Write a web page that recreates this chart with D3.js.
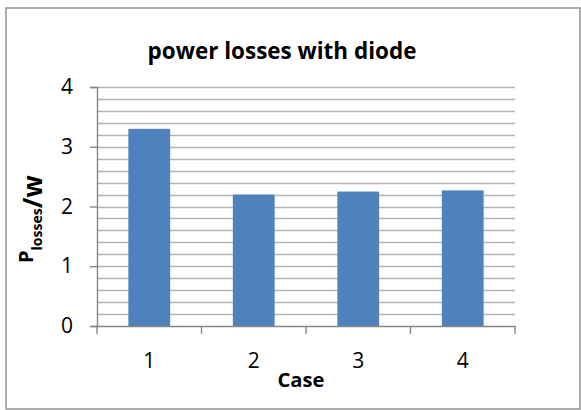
<!DOCTYPE html>
<html><head><meta charset="utf-8">
<script src="https://cdn.jsdelivr.net/npm/d3@7"></script>
<style>body{margin:0;background:#fff;} svg{display:block;}</style>
</head><body>
<svg id="c" width="581" height="410"></svg>
<script>
const categories = ["1","2","3","4"];
const values = [3.3, 2.2, 2.25, 2.27];
const yTicks = [0,1,2,3,4];
const title = "power losses with diode";
const xTitle = "Case";

const svg = d3.select("#c");
const font = "'Open Sans', 'Liberation Sans', sans-serif";
svg.append("rect").attr("x",6).attr("y",8).attr("width",574).attr("height",401)
  .attr("fill","#fff").attr("stroke","#9a9a9a").attr("stroke-width",1.6);

const m = {l:97, r:515, t:87, b:326};
const x = d3.scaleBand().domain(categories).range([m.l, m.r]).paddingInner(0.6).paddingOuter(0.3);
const xo = d3.scaleBand().domain(categories).range([m.l, m.r]);
const y = d3.scaleLinear().domain([0,4]).range([m.b, m.t]);

// minor gridlines
const grid = d3.range(1,21).map(i=>i*0.2);
svg.append("g").selectAll("line").data(grid).join("line")
  .attr("x1",m.l).attr("x2",m.r).attr("y1",d=>Math.round(y(d))+0.5).attr("y2",d=>Math.round(y(d))+0.5)
  .attr("stroke","#b3b3b3").attr("stroke-width",1.4);

// bars
svg.append("g").selectAll("rect").data(values).join("rect")
  .attr("x",(d,i)=>x(categories[i])).attr("width",x.bandwidth())
  .attr("y",d=>y(d)).attr("height",d=>y(0)-y(d))
  .attr("fill","#4f81bd");

// y axis
const ya = d3.axisLeft(y).tickValues(yTicks).tickSize(7).tickPadding(17).tickFormat(d3.format("d"));
const gy = svg.append("g").attr("transform",`translate(${m.l},0)`).call(ya);
gy.select(".domain").attr("stroke","#868686").attr("stroke-width",1.4);
gy.selectAll(".tick line").attr("stroke","#868686").attr("stroke-width",1.4);
gy.selectAll(".tick text").attr("font-family",font).attr("font-size",21).attr("fill","#000");

// x axis
const xa = d3.axisBottom(xo).tickSize(0).tickPadding(0);
const gx = svg.append("g").attr("transform",`translate(0,${m.b})`).call(xa);
gx.select(".domain").attr("stroke","#868686").attr("stroke-width",1.4);
gx.selectAll(".tick text").attr("font-family",font).attr("font-size",21).attr("fill","#000")
  .attr("y",42).attr("dy",0);
// category boundary ticks
const bounds = categories.map(c=>xo(c)).concat([m.r]);
svg.append("g").selectAll("line").data(bounds).join("line")
  .attr("x1",d=>d).attr("x2",d=>d).attr("y1",m.b).attr("y2",m.b+8)
  .attr("stroke","#868686").attr("stroke-width",1.4);

// titles
function fit(sel, target){
  const w = sel.node().getComputedTextLength();
  const fs = parseFloat(sel.attr("font-size"));
  if (w>0) sel.attr("font-size", fs*target/w);
}
const t = svg.append("text").attr("x",282).attr("y",59).attr("text-anchor","middle")
  .attr("font-family",font).attr("font-weight","bold").attr("font-size",19).text(title);
fit(t, 269);
const xt = svg.append("text").attr("x",301).attr("y",387).attr("text-anchor","middle")
  .attr("font-family",font).attr("font-weight","bold").attr("font-size",20).text(xTitle);
fit(xt, 47);
const yl = svg.append("text").attr("transform","translate(33,263) rotate(-90)").attr("text-anchor","start")
  .attr("font-family",font).attr("font-weight","bold").attr("font-size",20);
yl.append("tspan").text("P");
yl.append("tspan").attr("font-size",14).attr("dy",9).text("losses");
yl.append("tspan").attr("font-size",26).text("/w");
</script>
</body></html>
